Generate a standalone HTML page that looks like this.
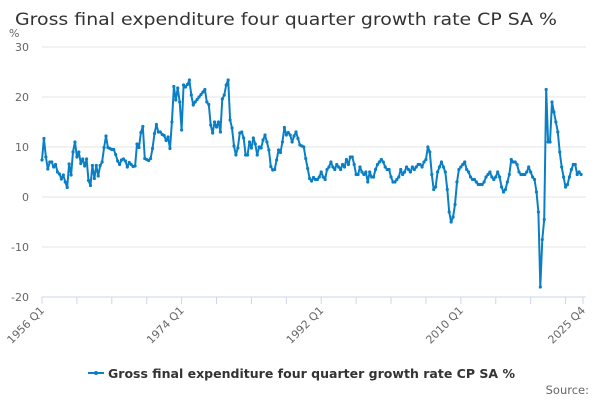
<!DOCTYPE html>
<html><head><meta charset="utf-8"><style>
body{margin:0;background:#fff;font-family:"DejaVu Sans","Liberation Sans",sans-serif}
svg text{font-family:"DejaVu Sans","Liberation Sans",sans-serif}
</style></head><body>
<svg id="chart" width="600" height="400" xmlns="http://www.w3.org/2000/svg">
<text x="15" y="25" font-size="17" fill="#333" textLength="542" lengthAdjust="spacingAndGlyphs">Gross final expenditure four quarter growth rate CP SA %</text>
<text x="9" y="37" font-size="11" fill="#666">%</text>
<g id="grid"></g><g id="yticks"></g><g id="xticks"></g><g id="series"></g>
<g>
<line x1="88" y1="373" x2="104" y2="373" stroke="#0a7fc5" stroke-width="2"/>
<circle cx="96" cy="373" r="2" fill="#0a7fc5"/>
<text x="108" y="378" font-size="12.5" font-weight="bold" fill="#333" textLength="407" lengthAdjust="spacingAndGlyphs">Gross final expenditure four quarter growth rate CP SA %</text>
</g>
<text x="589" y="394" font-size="11.5" fill="#666" text-anchor="end">Source:</text>
</svg>
<script>
const yTicks=[30,20,10,0,-10,-20];
const xTickLabels=["1956 Q1","1974 Q1","1992 Q1","2010 Q1","2025 Q4"];
const xTickIndex=[0,72,144,216,279];
const values=[
7.4,11.7,8,5.6,7,7,6,6.5,5,4.6,
3.6,4.4,3,1.9,6.6,4.4,9,11,8,9,
6.7,7.6,6.2,7.6,3.3,2.3,6.3,3.7,6.3,4.2,
6.3,7,9.9,12.2,9.9,9.7,9.5,9.5,8.5,7.2,
6.5,7.4,7.6,7.2,6,6.9,6.5,6.1,6.2,10.6,
9.9,12.9,14.1,7.7,7.5,7.3,7.7,9.7,12.7,14.5,
13,13,12.5,12.3,11.3,12,9.7,15,
22.1,19.4,21.8,19,13.4,22.4,22,22.5,23.4,20.4,
18.4,19,19.5,20,20.5,21,21.5,19,18.5,14.4,
12.8,15,14,15,13,19.6,20.4,22.4,23.4,15.4,
13.8,10.2,8.4,9.8,12.8,13,11.8,8.4,8.4,11,
9.8,11.8,10.6,8.4,10,9.8,11.4,12.4,11,9.4,
6.1,5.4,5.5,7.4,9.4,8.9,11,13.9,12.4,12.9,
12.4,11,12.2,13,11.7,10.4,10.2,10,7.7,5.7,
3.7,3.2,3.9,3.5,3.5,
4,5,4,3.5, 5.5,6,7,6, 5.5,6.5,6,5.5,
6.5,6,7.5,6.5, 8,8,6.5,4.5, 4.5,6,5,4.5, 5,3,5,4, 4,5.5,6.5,7,
7.5,7,6,5.5, 5.5,4,3,3, 3.5,4,5.5,4.5, 5,6,5.5,5, 6,5.5,6,6.5,
6.5,6,7,7.5, 10,9,4.5,1.5, 2,5,6,7, 6,5,1.5,-3, -5,-4,-1.5,3,
5.5,6,6.5,7, 5.5,5,4,3.5, 3.5,3,2.5,2.5, 2.5,3,4,4.5, 5,4,3.5,4,
5,4,2,1, 1.5,3,4.5,7.5, 7,7,6.5,5, 4.5,4.5,4.5,5, 6,5,4,3.5,
1,-3,-18,-8.5, -4.5,21.5,11,11, 19,17,15,13, 9,6,4,2, 2.5,4,5.5,6.5,
6.5,4.5,5,4.5];
const NS="http://www.w3.org/2000/svg";
const x0=42,x1=583,yTop=47,yBot=297,vMax=30,vMin=-20,nQ=280;
const xs=i=>x0+(x1-x0)*i/(nQ-1);
const ys=v=>yTop+(vMax-v)*(yBot-yTop)/(vMax-vMin);
function mk(tag,attrs,parent){const e=document.createElementNS(NS,tag);for(const k in attrs)e.setAttribute(k,attrs[k]);parent.appendChild(e);return e;}
const grid=document.getElementById('grid'),yt=document.getElementById('yticks'),xt=document.getElementById('xticks'),ser=document.getElementById('series');
yTicks.forEach(v=>{
 const l=mk('line',{x1:x0,x2:x1+3,y1:ys(v),y2:ys(v),stroke:v===vMin?'#ccd6eb':'#e6e6e6','stroke-width':1},grid);
 
 
 const t=mk('text',{x:29,y:ys(v)+4,'font-size':11,fill:'#666','text-anchor':'end'},yt);
 t.textContent=v;
 
 
});
for(let i=0;i<nQ;i+=18){
 const tk=mk('line',{x1:xs(i),x2:xs(i),y1:yBot,y2:yBot+7,stroke:'#ccd6eb'},xt);
 
 
}
xTickIndex.forEach((idx,k)=>{
 const x=xs(idx);
 if(idx%18!==0){const tk=mk('line',{x1:x,x2:x,y1:yBot,y2:yBot+7,stroke:'#ccd6eb'},xt);
  
  }
 const t=mk('text',{x:x+3,y:yBot+14,'font-size':11,fill:'#666','text-anchor':'end',transform:`rotate(-45 ${x+3} ${yBot+14})`},xt);
 t.textContent=xTickLabels[k];
 
 
});
const pts=values.map((v,i)=>xs(i).toFixed(1)+','+ys(v).toFixed(1)).join(' ');
const line=mk('polyline',{points:pts,fill:'none',stroke:'#0a7fc5','stroke-width':2,'stroke-linejoin':'round'},ser);


values.forEach((v,i)=>{
 const c=mk('circle',{cx:xs(i),cy:ys(v),r:1.6,fill:'#0a7fc5'},ser);
 
 
});
</script>
</body></html>
